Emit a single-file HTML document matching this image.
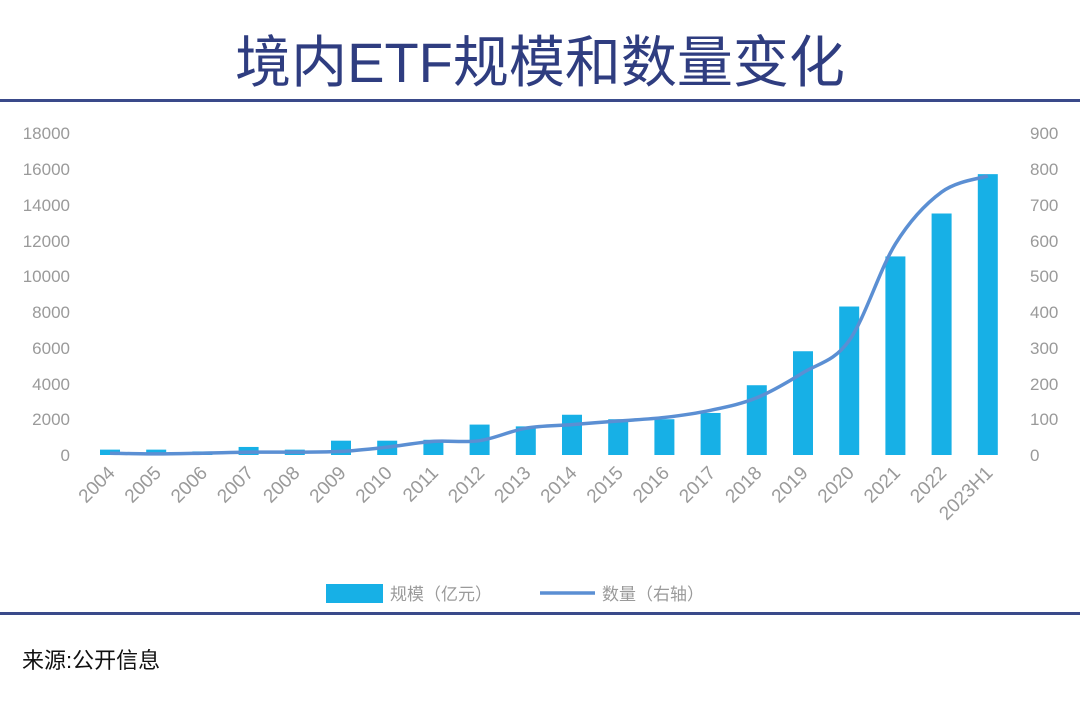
<!DOCTYPE html>
<html><head><meta charset="utf-8"><style>
body{margin:0;width:1080px;height:702px;background:#fff;overflow:hidden;font-family:"Liberation Sans","Noto Sans CJK SC",sans-serif}
</style></head><body>
<svg id="s" width="1080" height="702" xmlns="http://www.w3.org/2000/svg" font-family="Liberation Sans, Noto Sans CJK SC, sans-serif">
<text x="540" y="82" text-anchor="middle" font-size="56" fill="#2f3d80">境内ETF规模和数量变化</text>
<rect x="0" y="99" width="1080" height="3" fill="#3a4a8a"/>
<rect x="0" y="612" width="1080" height="3" fill="#3a4a8a"/>
<text x="22" y="668" font-size="22" fill="#111">来源:公开信息</text>
<g font-size="17" fill="#9a9a9a">
<g text-anchor="end">
<text x="70" y="139">18000</text><text x="70" y="175">16000</text><text x="70" y="211">14000</text><text x="70" y="247">12000</text><text x="70" y="282">10000</text><text x="70" y="318">8000</text><text x="70" y="354">6000</text><text x="70" y="390">4000</text><text x="70" y="425">2000</text><text x="70" y="461">0</text>
</g>
<g text-anchor="start">
<text x="1030" y="139">900</text><text x="1030" y="175">800</text><text x="1030" y="211">700</text><text x="1030" y="247">600</text><text x="1030" y="282">500</text><text x="1030" y="318">400</text><text x="1030" y="354">300</text><text x="1030" y="390">200</text><text x="1030" y="425">100</text><text x="1030" y="461">0</text>
</g>
</g>
<g id="bars" fill="#17b0e6"></g>
<path id="ln" fill="none" stroke="#5b8fd3" stroke-width="3.5"/>
<g id="xl" font-size="19" fill="#9a9a9a" text-anchor="end"></g>
<rect x="326" y="584" width="57" height="19" fill="#17b0e6"/>
<text x="390" y="600" font-size="17" fill="#9a9a9a">规模（亿元）</text>
<line x1="540" y1="593" x2="595" y2="593" stroke="#5b8fd3" stroke-width="3.5"/>
<text x="602" y="600" font-size="17" fill="#9a9a9a">数量（右轴）</text>
<script>
var NS="http://www.w3.org/2000/svg";
var labs=["2004","2005","2006","2007","2008","2009","2010","2011","2012","2013","2014","2015","2016","2017","2018","2019","2020","2021","2022","2023H1"];
var b=[300,300,200,450,300,800,800,850,1700,1600,2250,2000,2000,2350,3900,5800,8300,11100,13500,15700];
var n=[5,3,5,8,8,10,22,38,40,75,85,95,105,125,160,230,320,590,735,780];
var y0=455,ph=322,x0=110,dx=46.2,pts=[];
var gb=document.getElementById("bars"),gx=document.getElementById("xl");
for(var i=0;i<20;i++){var x=x0+dx*i;var h=b[i]/18000*ph;
var r=document.createElementNS(NS,"rect");r.setAttribute("x",x-10);r.setAttribute("y",y0-h);r.setAttribute("width",20);r.setAttribute("height",h);gb.appendChild(r);
var t=document.createElementNS(NS,"text");t.setAttribute("transform","translate("+(x+6)+",474) rotate(-45)");t.textContent=labs[i];gx.appendChild(t);
pts.push([x,y0-n[i]/900*ph]);}
var d="M"+pts[0][0]+","+pts[0][1];
for(var i=0;i<19;i++){var p0=pts[Math.max(i-1,0)],p1=pts[i],p2=pts[i+1],p3=pts[Math.min(i+2,19)];
var c1=[p1[0]+(p2[0]-p0[0])/6,p1[1]+(p2[1]-p0[1])/6],c2=[p2[0]-(p3[0]-p1[0])/6,p2[1]-(p3[1]-p1[1])/6];
d+=" C"+c1+" "+c2+" "+p2;}
document.getElementById("ln").setAttribute("d",d);
</script>
</svg>
</body></html>
